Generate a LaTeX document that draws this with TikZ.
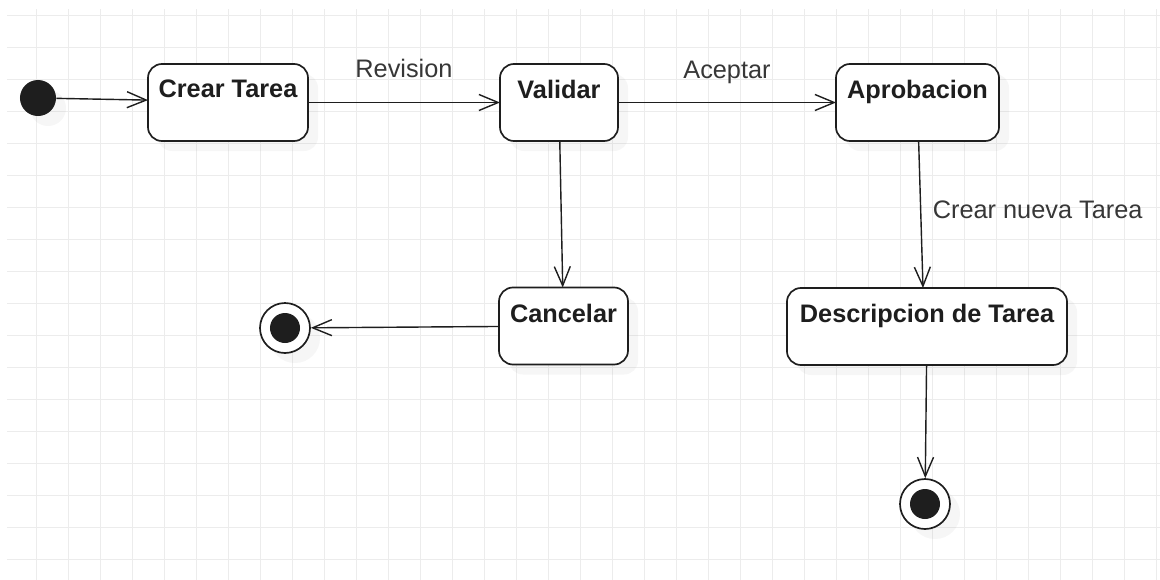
\documentclass[tikz,border=0pt]{standalone}
\usepackage{fontspec}
\setmainfont{Liberation Sans}
\usepackage{tikz}
\usetikzlibrary{arrows.meta, shadows}
\definecolor{umlInk}{RGB}{30, 30, 30}
\definecolor{umlLabel}{RGB}{55, 55, 55}
\definecolor{umlGrid}{RGB}{236, 236, 236}
\tikzset{
    base/.style={
        font=\fontsize{18}{22}\selectfont,
        text=umlInk
    },
    statebox/.style={
        rectangle,
        rounded corners=3.5mm,
        draw=umlInk,
        line width=1.2pt,
        fill=white,
        minimum height=1.925cm,
        outer sep=0pt,
        drop shadow={opacity=0.07, shadow xshift=2.5mm, shadow yshift=-2.5mm}
    },
    statename/.style={
        base,
        font=\fontsize{18}{22}\selectfont\bfseries,
        anchor=north,
        inner sep=0pt,
        yshift=-4mm
    },
    initial/.style={
        circle,
        fill=umlInk,
        inner sep=0pt,
        minimum size=9mm,
        drop shadow={opacity=0.07, shadow xshift=2.5mm, shadow yshift=-2.5mm}
    },
    final/.style={
        circle,
        draw=umlInk,
        line width=1.2pt,
        fill=white,
        inner sep=0pt,
        minimum size=12.5mm,
        drop shadow={opacity=0.07, shadow xshift=2.5mm, shadow yshift=-2.5mm},
        path picture={\fill[umlInk] (path picture bounding box.center) circle (3.75mm);}
    },
    flow/.style={
        -{Straight Barb[length=4.8mm, width=4mm]},
        line width=1pt,
        draw=umlInk
    },
    tag/.style={
        base,
        text=umlLabel,
        inner sep=0pt
    },
    gridline/.style={
        draw=umlGrid,
        line width=1pt
    }
}
\begin{document}
\begin{tikzpicture}[x=0.025cm, y=-0.025cm]
  % Canvas
  \path[use as bounding box, fill=white] (0,0) rectangle (1160,580);

  % Grid
  \foreach \gx in {0,...,35}
    \draw[gridline] ({36.5+32*\gx},9) -- ({36.5+32*\gx},580);
  \foreach \gy in {0,...,17}
    \draw[gridline] (7,{15.7+32*\gy}) -- (1160,{15.7+32*\gy});

  % States
  \node[initial] (start) at (38,98) {};
  \node[statebox, minimum width=4cm, label={[statename]north:Crear Tarea}] (crear) at (228,102.5) {};
  \node[statebox, minimum width=2.95cm, label={[statename]north:Validar}] (validar) at (559,102.5) {};
  \node[statebox, minimum width=4.075cm, label={[statename]north:Aprobacion}] (aprobacion) at (917.5,102.5) {};
  \node[statebox, minimum width=3.225cm, label={[statename]north:Cancelar}] (cancelar) at (563.5,326) {};
  \node[statebox, minimum width=7cm, label={[statename]north:Descripcion de Tarea}] (descripcion) at (927,326.5) {};
  \node[final] (fin1) at (285,328) {};
  \node[final] (fin2) at (925,504) {};

  % Transitions
  \draw[flow] (start) -- ([yshift=0.06cm]crear.west);
  \draw[flow] (crear) -- (validar) node[tag, midway, anchor=base, yshift=6.2mm] {Revision};
  \draw[flow] (validar) -- (aprobacion) node[tag, midway, anchor=base, yshift=6mm] {Aceptar};
  \draw[flow] (validar) -- (cancelar);
  \draw[flow] (aprobacion) -- ([xshift=-1mm]descripcion.north) node[tag, pos=0.53, anchor=base west, xshift=2.8mm] {Crear nueva Tarea};
  \draw[flow] (cancelar) -- (fin1);
  \draw[flow] (descripcion) -- (fin2);
\end{tikzpicture}
\end{document}
